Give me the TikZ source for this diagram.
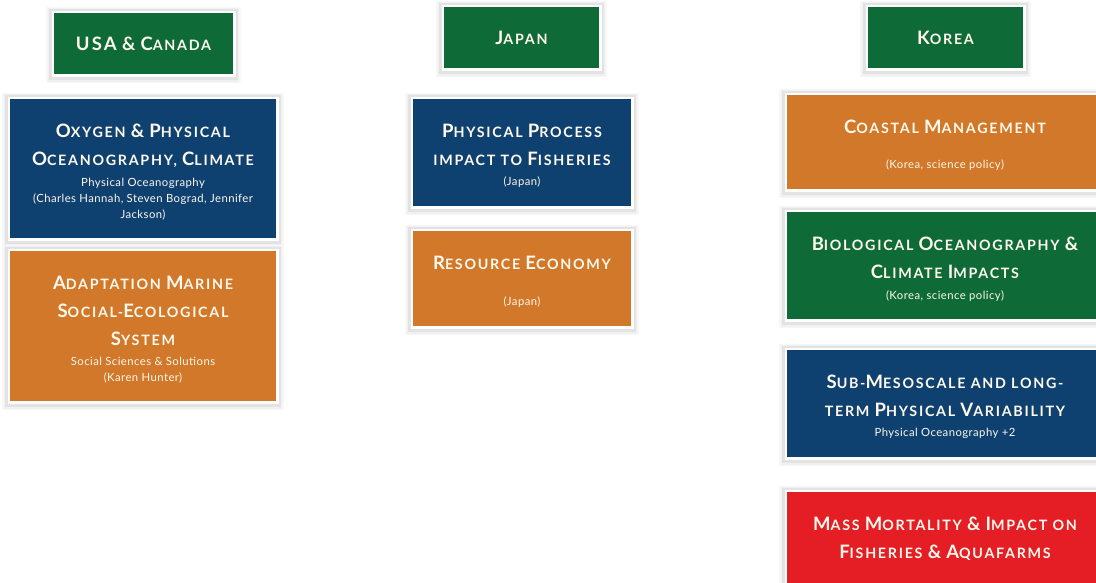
\documentclass[tikz,border=0pt]{standalone}
\usepackage{fontspec}
\setmainfont{Lato}
\definecolor{cgreen}{HTML}{0E6B37}
\definecolor{cblue}{HTML}{0F4170}
\definecolor{corange}{HTML}{D1782A}
\definecolor{cred}{HTML}{E51E26}
\definecolor{ctext}{HTML}{FFF8EC}
\newcommand\ttlfont{\fontsize{14.3}{28}\selectfont\bfseries\addfontfeatures{LetterSpace=12}}
\newcommand\subfont{\fontsize{11.3}{16}\selectfont\addfontfeatures{LetterSpace=4}}
\newcommand\Bg[1]{{\fontsize{18.5}{28}\selectfont #1}}
\newcommand\tonly[2]{\begin{minipage}{#1}\centering\ttlfont #2\par\end{minipage}}
\newcommand\tbox[4]{\begin{minipage}{#1}\vspace*{7pt}\centering{\ttlfont #2\par}\vspace{#3}{\subfont\color{ctext!78!.}#4\par}\end{minipage}}
\tikzset{
  box/.style={rectangle, draw=white, line width=2.5pt, inner sep=0pt, text=ctext,
    preaction={draw=black!3, fill=black!3, line width=13pt, transform canvas={yshift=-1.5pt}},
    preaction={draw=black!6, line width=10pt, transform canvas={yshift=-1.5pt}},
    preaction={draw=black!11, line width=7pt, transform canvas={yshift=-1.2pt}}},
}
\begin{document}
\begin{tikzpicture}[x=1pt,y=-1pt]
\useasboundingbox (0,0) rectangle (1096,582);
% column 1
\node[box, fill=cgreen, minimum width=181.5pt, minimum height=63.5pt] (usa) at (143.5,43.5)
  {\tonly{178pt}{\Bg{USA} \Bg{\&} \Bg{C}ANADA}};
\node[box, fill=cblue, minimum width=268.5pt, minimum height=141.5pt] (oxy) at (143,168.5)
  {\tbox{260pt}{\Bg{O}XYGEN \Bg{\&} \Bg{P}HYSICAL\\ \Bg{O}CEANOGRAPHY, \Bg{C}LIMATE}{4.5pt}{Physical Oceanography\\ (Charles Hannah, Steven Bograd, Jennifer\\ Jackson)}};
\node[box, fill=corange, minimum width=268.5pt, minimum height=152.5pt] (ada) at (143,326)
  {\tbox{260pt}{\Bg{A}DAPTATION \Bg{M}ARINE\\ \Bg{S}OCIAL-\Bg{E}COLOGICAL\\ \Bg{S}YSTEM}{4.5pt}{Social Sciences \& Solutions\\ (Karen Hunter)}};
% column 2
\node[box, fill=cgreen, minimum width=157.5pt, minimum height=63.5pt] (jap) at (521.5,37.5)
  {\tonly{154pt}{\Bg{J}APAN}};
\node[box, fill=cblue, minimum width=220.5pt, minimum height=109.5pt] (phy) at (522,152.5)
  {\tbox{217pt}{\Bg{P}HYSICAL \Bg{P}ROCESS\\ IMPACT TO \Bg{F}ISHERIES}{4.5pt}{(Japan)}};
\node[box, fill=corange, minimum width=220.5pt, minimum height=97.5pt] (res) at (522,278.5)
  {\tbox{217pt}{\Bg{R}ESOURCE \Bg{E}CONOMY}{19.5pt}{(Japan)}};
% column 3
\node[box, fill=cgreen, minimum width=157.5pt, minimum height=63.5pt] (kor) at (945.5,37.5)
  {\tonly{154pt}{\Bg{K}OREA}};
\node[box, fill=corange, minimum width=318.5pt, minimum height=96.5pt] (coa) at (945,142)
  {\tbox{310pt}{\Bg{C}OASTAL \Bg{M}ANAGEMENT}{19pt}{(Korea, science policy)}};
\node[box, fill=cgreen, minimum width=318.5pt, minimum height=109.5pt] (bio) at (945,265.5)
  {\tbox{310pt}{\Bg{B}IOLOGICAL \Bg{O}CEANOGRAPHY \Bg{\&}\\ \Bg{C}LIMATE \Bg{I}MPACTS}{4.5pt}{(Korea, science policy)}};
\node[box, fill=cblue, minimum width=318.5pt, minimum height=109.5pt] (sub) at (945,403.5)
  {\tbox{310pt}{\Bg{S}UB-\Bg{M}ESOSCALE AND LONG-\\ TERM \Bg{P}HYSICAL \Bg{V}ARIABILITY}{4.5pt}{Physical Oceanography +2}};
\node[box, fill=cred, minimum width=318.5pt, minimum height=95.5pt] (mas) at (945,538.5)
  {\tonly{310pt}{\Bg{M}ASS \Bg{M}ORTALITY \Bg{\&} \Bg{I}MPACT ON\\ \Bg{F}ISHERIES \Bg{\&} \Bg{A}QUAFARMS}};
\end{tikzpicture}
\end{document}
